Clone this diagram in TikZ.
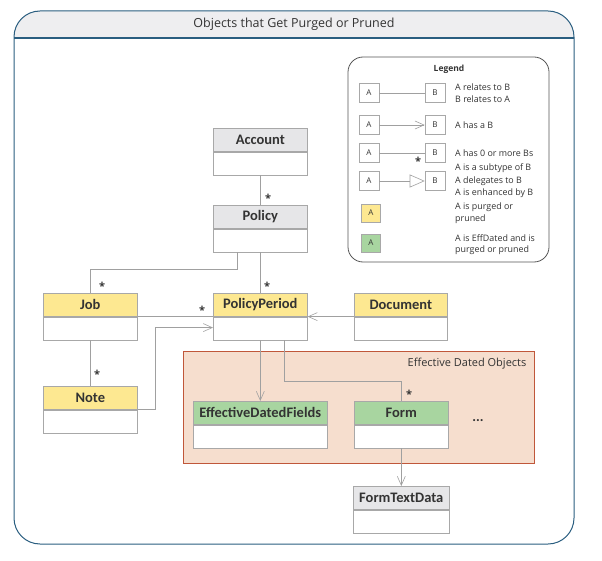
\documentclass[tikz,border=0pt]{standalone}
\usepackage{fontspec}
\setmainfont{Open Sans}
\newfontfamily\clsfont{Carlito}
\usetikzlibrary{arrows.meta}
\definecolor{frameblue}{HTML}{2A5E80}
\definecolor{hdrgray}{HTML}{EEEEF0}
\definecolor{boxgray}{HTML}{A8A8A8}
\definecolor{linegray}{HTML}{A0A0A0}
\definecolor{purgeyellow}{HTML}{FDE891}
\definecolor{effgreen}{HTML}{A8D5A0}
\definecolor{plaingray}{HTML}{E6E6E8}
\definecolor{regionfill}{HTML}{F6DECE}
\definecolor{regionline}{HTML}{C0573A}
\definecolor{txtgray}{HTML}{333333}
\definecolor{legline}{HTML}{555555}
\tikzset{
  clshead/.style={draw=boxgray, line width=0.6pt, minimum width=94pt, minimum height=23pt,
    inner sep=0pt, anchor=north west, font=\clsfont\bfseries\fontsize{14.5}{16}\selectfont, text=txtgray},
  clsbody/.style={draw=boxgray, fill=white, line width=0.6pt, minimum width=94pt,
    minimum height=23pt, inner sep=0pt, anchor=north west},
  conn/.style={draw=linegray, line width=0.6pt},
  barb/.style={-{Straight Barb[length=9pt,width=8pt]}},
  starlbl/.style={font=\bfseries\fontsize{11}{11}\selectfont, text=txtgray, inner sep=0pt},
  legbox/.style={draw=boxgray, fill=white, line width=0.6pt, minimum width=20pt, minimum height=19pt,
    inner sep=0pt, font=\fontsize{8}{9}\selectfont, text=txtgray},
  legtxt/.style={anchor=west, inner sep=0pt, font=\fontsize{8.9}{10}\selectfont, text=txtgray},
}
\begin{document}
\begin{tikzpicture}[x=1pt,y=-1pt]
\useasboundingbox (0,0) rectangle (602,561);
% outer frame
\begin{scope}
  \clip[rounded corners=26pt] (14,11) rectangle (574,544);
  \fill[hdrgray] (14,11) rectangle (574,38);
\end{scope}
\draw[frameblue, line width=1pt, rounded corners=26pt] (14,11) rectangle (574,544);
\draw[frameblue, line width=1.6pt] (14,38) -- (574,38);
\node[font=\fontsize{12.5}{14}\selectfont, text=txtgray] (title) at (294,24) {Objects that Get Purged or Pruned};

% legend
\draw[legline, line width=0.8pt, rounded corners=15pt] (348,57) rectangle (549,262);
\node[font=\bfseries\fontsize{8.5}{10}\selectfont, text=txtgray] (legtitle) at (449,69) {Legend};
\node[legbox] (la1) at (369,93) {A};
\node[legbox] (lb1) at (435,93) {B};
\draw[conn] (la1) -- (lb1);
\node[legtxt] (lt1a) at (455,87) {A relates to B};
\node[legtxt] (lt1b) at (455,99) {B relates to A};
\node[legbox] (la2) at (369,125) {A};
\node[legbox] (lb2) at (435,125) {B};
\draw[conn, barb] (la2) -- (lb2);
\node[legtxt] (lt2) at (455,125) {A has a B};
\node[legbox] (la3) at (369,153) {A};
\node[legbox] (lb3) at (435,153) {B};
\draw[conn] (la3) -- (lb3);
\node[starlbl] (ls3) at (418,161) {*};
\node[legtxt] (lt3) at (455,153) {A has 0 or more Bs};
\node[legbox] (la4) at (369,181) {A};
\node[legbox] (lb4) at (435,181) {B};
\draw[conn, -{Triangle[open, length=15pt, width=13pt, fill=white]}] (la4) -- (lb4);
\node[legtxt] (lt4a) at (455,168) {A is a subtype of B};
\node[legtxt] (lt4b) at (455,181) {A delegates to B};
\node[legtxt] (lt4c) at (455,193) {A is enhanced by B};
\node[legbox, fill=purgeyellow, minimum width=19pt, minimum height=18pt] (la5) at (371,213) {A};
\node[legtxt] (lt5a) at (455,207) {A is purged or};
\node[legtxt] (lt5b) at (455,219) {pruned};
\node[legbox, fill=effgreen, minimum width=19pt, minimum height=18pt] (la6) at (371,243) {A};
\node[legtxt] (lt6a) at (455,238) {A is EffDated and is};
\node[legtxt] (lt6b) at (455,250) {purged or pruned};

% region
\draw[regionline, fill=regionfill, line width=0.9pt] (183,351) rectangle (534,463);
\node[font=\fontsize{11}{13}\selectfont, text=txtgray] (reglbl) at (467,364) {Effective Dated Objects};

% classes
\node[clshead, fill=plaingray] (acc) at (213,128) {Account};
\node[clsbody] (acc-b) at (acc.south west) {};
\node[clshead, fill=plaingray] (pol) at (213,205) {Policy};
\node[clsbody] (pol-b) at (pol.south west) {};
\node[clshead, fill=purgeyellow] (job) at (43,293) {Job};
\node[clsbody] (job-b) at (job.south west) {};
\node[clshead, fill=purgeyellow] (pp) at (213,293) {PolicyPeriod};
\node[clsbody] (pp-b) at (pp.south west) {};
\node[clshead, fill=purgeyellow, minimum width=93pt] (doc) at (354,293) {Document};
\node[clsbody, minimum width=93pt] (doc-b) at (doc.south west) {};
\node[clshead, fill=purgeyellow] (note) at (43,386) {Note};
\node[clsbody] (note-b) at (note.south west) {};
\node[clshead, fill=effgreen, minimum width=134pt] (edf) at (193,401) {EffectiveDatedFields};
\node[clsbody, minimum width=134pt] (edf-b) at (edf.south west) {};
\node[clshead, fill=effgreen] (form) at (354,401) {Form};
\node[clsbody] (form-b) at (form.south west) {};
\node[clshead, fill=plaingray, minimum width=96pt] (ftd) at (353,486) {FormTextData};
\node[clsbody, minimum width=96pt] (ftd-b) at (ftd.south west) {};
\node[font=\clsfont\bfseries\fontsize{14}{14}\selectfont, text=txtgray] (more) at (478,421) {...};

% connectors
\draw[conn] (acc-b.south) -- (pol.north);
\node[starlbl] (s1) at (268,198) {*};
\draw[conn] ([xshift=24pt]pol-b.south west) -- ++(0,17) -| (job.north);
\node[starlbl] (s2) at (102,286) {*};
\draw[conn] (pol-b.south) -- (pp.north);
\node[starlbl] (s3) at (267,286) {*};
\draw[conn] (job.south east) -- (pp.south west);
\node[starlbl] (s4) at (202,310) {*};
\draw[conn] (job-b.south) -- (note.north);
\node[starlbl] (s5) at (97,374) {*};
\draw[conn, barb] (note.south east) -- ++(18,0) |- ([yshift=-11pt]pp.south west);
\draw[conn, barb] (doc.south west) -- (pp.south east);
\draw[conn, barb] (pp-b.south) -- (edf.north);
\draw[conn] ([xshift=71pt]pp-b.south west) -- ++(0,41) -| (form.north);
\node[starlbl] (s6) at (409,394) {*};
\draw[conn, barb] (form-b.south) -- (ftd.north);
\end{tikzpicture}
\end{document}
